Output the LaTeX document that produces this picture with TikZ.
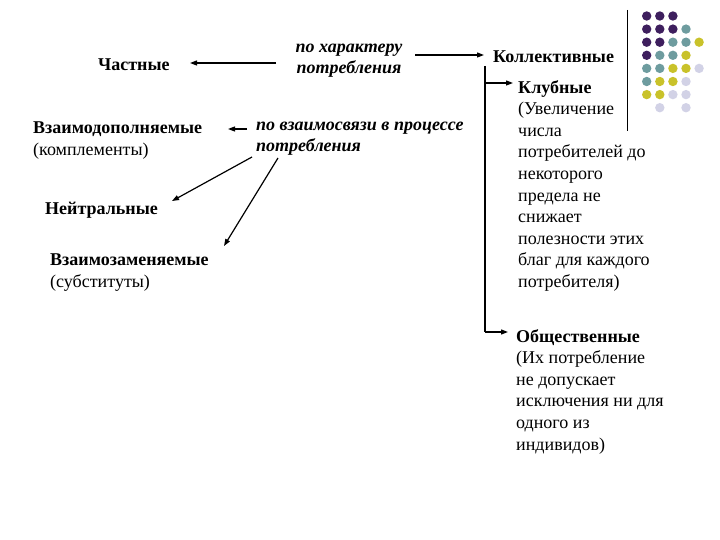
\documentclass[tikz,border=0pt]{standalone}
\usepackage{fontspec}
\setmainfont{Liberation Serif}
\usetikzlibrary{arrows.meta,calc}
\definecolor{dpurple}{HTML}{3E1F5E}
\definecolor{dteal}{HTML}{6E9C9F}
\definecolor{dyellow}{HTML}{C9C22A}
\definecolor{dlav}{HTML}{D2D2E6}
\begin{document}
\begin{tikzpicture}[x=1pt,y=-1pt,
  txt/.style={inner sep=0pt, anchor=north west, align=left,
    font=\fontsize{18}{21.6}\selectfont},
  bold/.style={txt, font=\fontsize{18}{21.6}\selectfont\bfseries},
  bit/.style={txt, font=\fontsize{18}{21.6}\selectfont\bfseries\itshape},
  arr/.style={-{Triangle[length=7pt,width=5pt]}, line width=1.2pt},
  trunk/.style={line width=1.2pt}]
\useasboundingbox (0,0) rectangle (720,540);
% decorative dots
\draw[line width=1pt] (627,10) -- (627,131);
\foreach \r/\cols in {0/{0/dpurple,1/dpurple,2/dpurple},
  1/{0/dpurple,1/dpurple,2/dpurple,3/dteal},
  2/{0/dpurple,1/dpurple,2/dteal,3/dteal,4/dyellow},
  3/{0/dpurple,1/dteal,2/dteal,3/dyellow},
  4/{0/dteal,1/dteal,2/dyellow,3/dyellow,4/dlav},
  5/{0/dteal,1/dyellow,2/dyellow,3/dlav},
  6/{0/dyellow,1/dyellow,2/dlav,3/dlav},
  7/{1/dlav,3/dlav}}{
  \foreach \c/\col in \cols {
    \fill[\col] ({646.7+13.1*\c},{16+13.1*\r}) circle (4.7);
  }
}
% texts
\node[bold] (ch) at (98,58.5) {Частные};
\node[bit, align=center, anchor=north] (hk) at (349,43.5) {по характеру\\потребления};
\node[bold] (kol) at (493,50.5) {Коллективные};
\node[txt] (kl) at (518,80) {\textbf{Клубные}\\(Увеличение\\числа\\потребителей до\\некоторого\\предела не\\снижает\\полезности этих\\благ для каждого\\потребителя)};
\node[txt] (ob) at (516,329) {\textbf{Общественные}\\(Их потребление\\не допускает\\исключения ни для\\одного из\\индивидов)};
\node[txt] (vd) at (33,121.5) {\textbf{Взаимодополняемые}\\(комплементы)};
\node[bit] (vs) at (256,121.5) {по взаимосвязи в процессе\\потребления};
\node[bold] (ne) at (45,201.5) {Нейтральные};
\node[txt] (vz) at (50,253.5) {\textbf{Взаимозаменяемые}\\(субституты)};
% connector end points
\coordinate (a1s) at (276,63);
\coordinate (a1e) at (190,63);
\coordinate (a2s) at (415,55);
\coordinate (a2e) at (484,55);
\coordinate (ttop) at (485,66);
\coordinate (tkl) at (485,83);
\coordinate (tkle) at (513,83);
\coordinate (tbot) at (485,332);
\coordinate (tobe) at (508,332);
\coordinate (vds) at (247,129);
\coordinate (vde) at (228,129);
\coordinate (nes) at (252,157);
\coordinate (nee) at (172,201);
\coordinate (vzs) at (278,158);
\coordinate (vze) at (224,246);
% connectors
\draw[arr] (a1s) -- (a1e);
\draw[arr] (a2s) -- (a2e);
\draw[trunk] (ttop) -- (tbot);
\draw[arr] (tkl) -- (tkle);
\draw[arr] (tbot) -- (tobe);
\draw[arr] (vds) -- (vde);
\draw[arr] (nes) -- (nee);
\draw[arr] (vzs) -- (vze);
\end{tikzpicture}
\end{document}
